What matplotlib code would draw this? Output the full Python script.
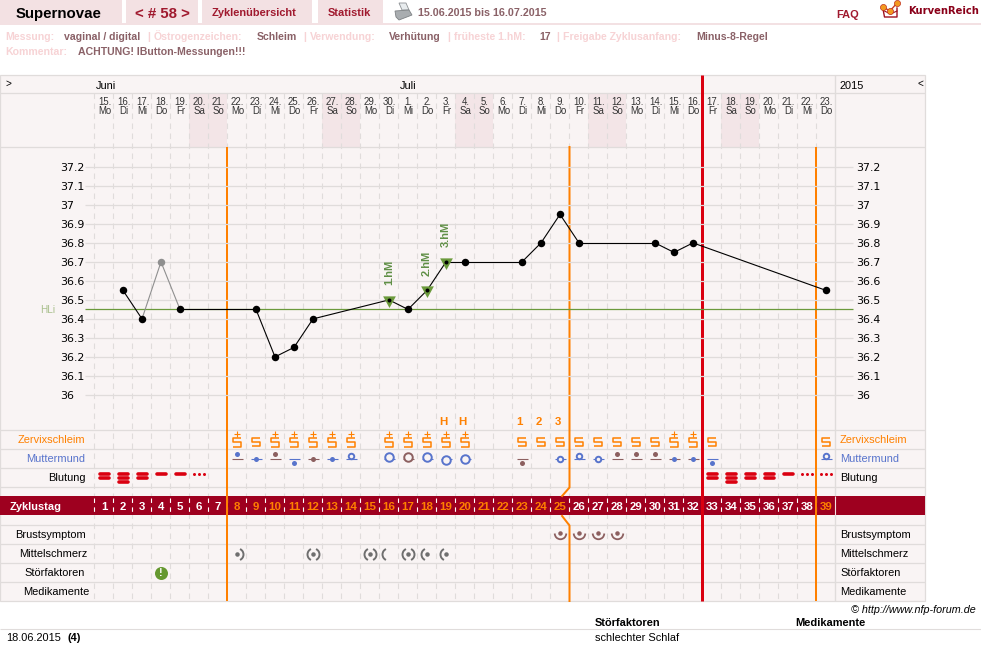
import matplotlib
matplotlib.use("Agg")
import matplotlib.pyplot as plt
from matplotlib.path import Path
from matplotlib.patches import Rectangle, Polygon

W, H = 981, 661
PANEL = "#f9f4f4"
GRID = "#e0dcdb"
WEEKEND = "#f3e5e7"
TAB = "#f3e1e3"
DARK_RED = "#a0192e"
BAND = "#9e001f"
ORANGE = "#ff8000"
RED = "#da0010"
BLUE = "#5874cc"
BROWN = "#8c5f5f"
GREEN = "#6b9a3c"
PINK = "#f7d3d5"
VALUE = "#8a6167"

# calendar
date_numbers = ["15", "16", "17", "18", "19", "20", "21", "22", "23", "24", "25", "26", "27", "28", "29", "30",
                "1", "2", "3", "4", "5", "6", "7", "8", "9", "10", "11", "12", "13", "14", "15", "16",
                "17", "18", "19", "20", "21", "22", "23"]
weekdays = ["Mo", "Di", "Mi", "Do", "Fr", "Sa", "So"] * 5 + ["Mo", "Di", "Mi", "Do"]
weekend_days = [6, 7, 13, 14, 20, 21, 27, 28, 34, 35]
cycle_days = list(range(1, 40))
fertile_days = list(range(8, 26)) + [39]

# temperature curve
temp_days = [2, 3, 4, 5, 9, 10, 11, 12, 16, 17, 18, 19, 20, 23, 24, 25, 26, 30, 31, 32, 39]
temp_values = [36.55, 36.40, 36.70, 36.45, 36.45, 36.20, 36.25, 36.40, 36.50, 36.45, 36.55,
               36.70, 36.70, 36.70, 36.80, 36.95, 36.80, 36.80, 36.75, 36.80, 36.55]
excluded_days = [4]
high_days = [16, 18, 19]
high_labels = ["1.hM", "2.hM", "3.hM"]
cover_line = 36.45
temp_ticks = [36, 36.1, 36.2, 36.3, 36.4, 36.5, 36.6, 36.7, 36.8, 36.9, 37, 37.1, 37.2]

# cycle phase boundaries
phase_lines = [7.5, 38.5]
kink_line = 25.5
ovulation_line = 32.5

# cervical mucus
mucus_plain = [9, 23, 24, 25, 26, 27, 28, 29, 30, 33, 39]
mucus_plus = [8, 10, 11, 12, 13, 14, 16, 17, 18, 19, 20, 31, 32]
peak_days = [19, 20, 23, 24, 25]
peak_labels = ["H", "H", "1", "2", "3"]

# cervix: day, height, ring size (0 = closed), dot colour, line colour
cervix_days = [8, 9, 10, 11, 12, 13, 14, 16, 17, 18, 19, 20, 23, 25, 26, 27, 28, 29, 30, 31, 32, 33, 39]
cervix_height = [1, 0, 1, -1, 0, 0, 0.7, 0.5, 0.5, 0.5, -0.5, 0, -1, 0, 0.7, 0, 1, 1, 1, 0, 0, -1, 0.7]
cervix_ring = [0, 0, 0, 0, 0, 0, 5.5, 8.5, 8.5, 8.5, 8.5, 8.5, 0, 5.5, 5.5, 5.5, 0, 0, 0, 0, 0, 0, 5.5]
cervix_dot = [BLUE, BLUE, BROWN, BLUE, BROWN, BLUE, BLUE, BLUE, BROWN, BLUE, BLUE, BLUE, BROWN,
              BLUE, BLUE, BLUE, BROWN, BROWN, BROWN, BLUE, BLUE, BLUE, BLUE]
cervix_line = [BROWN, BLUE, BROWN, BLUE, BROWN, BLUE, BLUE, BLUE, BROWN, BLUE, BLUE, BLUE, BROWN,
               BLUE, BLUE, BLUE, BROWN, BROWN, BROWN, BROWN, BROWN, BLUE, BLUE]

# bleeding: number of bars, 0 = spotting dots
bleeding_days = [1, 2, 3, 4, 5, 6, 33, 34, 35, 36, 37, 38, 39]
bleeding_bars = [2, 3, 2, 1, 1, 0, 2, 3, 2, 2, 1, 0, 0]

# symptoms
breast_days = [25, 26, 27, 28]
pain_left = [12, 15, 16, 17, 18, 19]
pain_right = [8, 12, 15, 17]
pain_dot = [8, 12, 15, 17, 18, 19]
disturbance_days = [4]

row_names = ["Zervixschleim", "Muttermund", "Blutung", "Brustsymptom", "Mittelschmerz", "Störfaktoren", "Medikamente"]
row_y = [439.5, 458.5, 477.5, 534.5, 553.5, 572.5, 591.5]
row_right = [85, 85.5, 85.5, 86, 87, 85, 89]
row_colors = [ORANGE, BLUE, "black", "black", "black", "black", "black"]


def size(px):
    return px * 0.72


S_PLAIN = Path([(1, 1), (-1, 1), (-1, 0), (1, 0), (1, -1), (-1, -1)])
S_TALL = Path([(0.78, 1), (-0.78, 1), (-0.78, 0), (0.78, 0), (0.78, -1), (-0.78, -1)])
ARC_LEFT = Path.arc(115, 245)
ARC_RIGHT = Path.arc(-65, 65)
ARC_LOW = Path.arc(180, 360)
TRIANGLE = Path([(-0.85, 0.55), (0.85, 0.55), (0, -1), (-0.85, 0.55)], closed=True)

plt.rcParams["font.family"] = ["Liberation Sans", "DejaVu Sans"]
fig = plt.figure(figsize=(W / 100, H / 100), dpi=100, facecolor="white")


def make_axes(left, top, right, bottom):
    ax = fig.add_axes([left / W, 1 - bottom / H, (right - left) / W, (bottom - top) / H])
    ax.axis("off")
    ax.patch.set_alpha(0)
    return ax


def px_to_day(px):
    return 1 + (px - 104) / 19


# page furniture in pixel units
page = make_axes(0, 0, W, H)
page.set_xlim(0, W)
page.set_ylim(H, 0)


def label(x, y, s, px=11, color="black", weight="normal", ha="left", ax=page, **kw):
    ax.annotate(s, (x, y), xytext=(0, -size(px * 0.36)), textcoords="offset points", fontsize=size(px),
                color=color, fontweight=weight, ha=ha, va="baseline", annotation_clip=False, **kw)


for x0, x1 in [(0, 122), (126, 198), (202, 312), (318, 383)]:
    page.add_patch(Rectangle((x0, 0), x1 - x0, 23, fc=TAB, ec="none"))
page.add_patch(Rectangle((0, 23), W, 2, fc=TAB, ec="none"))
label(16, 13, "Supernovae", 15, "black", "bold")
label(162, 13, "< # 58 >", 15, DARK_RED, "bold", ha="center")
label(212, 12.5, "Zyklenübersicht", 11, DARK_RED, "bold")
label(328, 12.5, "Statistik", 11, DARK_RED, "bold")
label(418, 12.5, "15.06.2015 bis 16.07.2015", 10.7, VALUE, "bold")
label(836, 14.5, "FAQ", 11, DARK_RED, "bold")
label(908, 10.5, "KurvenReich", 10, "#8a0019", "bold", family="DejaVu Sans")

# printer icon
page.add_patch(Polygon([(399, 3), (406, 3), (409, 10), (402, 10)], fc="#e8ecee", ec="#8d9194", lw=0.6))
page.add_patch(Polygon([(395, 11), (409, 10), (412, 15), (399, 20), (396, 17)], fc="#a9adb0", ec="#7d8184", lw=0.6))

# logo
page.plot([883, 890, 897], [7, 11, 3], color="#c8401f", lw=1)
page.plot([883, 884.5, 897, 897], [9, 17, 17, 8], color="#a01020", lw=1)
page.plot([884.5, 890.5, 897], [11, 14, 11], color="#a01020", lw=0.8)
page.plot([883, 890, 897], [7, 11, 3], "o", ms=4.4, mfc="#f29a1f", mec="#c0301f", mew=0.5)

info_top = [(5, "Messung:", PINK), (64, "vaginal / digital", VALUE), (147, "|", PINK),
            (154, "Östrogenzeichen:", PINK), (257, "Schleim", VALUE), (303, "|", PINK),
            (310, "Verwendung:", PINK), (389, "Verhütung", VALUE), (447, "|", PINK),
            (454, "früheste 1.hM:", PINK), (539, "17", VALUE), (556, "|", PINK),
            (563, "Freigabe Zyklusanfang:", PINK), (696, "Minus-8-Regel", VALUE)]
for x, s, c in info_top:
    label(x, 36, s, 10.5, c, "bold")
label(5, 51, "Kommentar:", 10.5, PINK, "bold")
label(78, 51, "ACHTUNG! IButton-Messungen!!!", 10.5, VALUE, "bold")

# chart panel
page.add_patch(Rectangle((0, 75), 925, 526, fc=PANEL, ec=GRID, lw=0.9))

label(5, 83, ">", 10)
label(96, 85, "Juni", 11)
label(400, 85, "Juli", 11)
label(840, 85, "2015", 11)
label(918, 83, "<", 10)
label(976, 609, "© http://www.nfp-forum.de", 10.7, ha="right", style="italic")
label(595, 622, "Störfaktoren", 11, weight="bold")
label(795, 622, "Medikamente", 11, weight="bold")
page.hlines(629, 0, W, color=GRID, lw=0.8)
label(6, 637.5, "18.06.2015", 11)
label(68, 637.5, "(4)", 11, weight="bold")
label(595, 637.5, "schlechter Schlaf", 11)

# day columns: x in cycle days, y in pixels
grid = make_axes(0, 0, 925, H)
grid.set_xlim(px_to_day(0), px_to_day(925))
grid.set_ylim(H, 0)
DASH = (0, (5, 4))
EDGE = 0.5 / 19  # nudges column edges onto the pixel grid
column_edges = [d - 0.5 - EDGE for d in cycle_days]

for d in weekend_days:
    grid.add_patch(Rectangle((d - 0.5 - EDGE, 93), 1, 54, fc=WEEKEND, ec="none", zorder=1))

for y in [93, 147, 430, 449, 468, 487, 525, 544, 563, 582]:
    grid.hlines(y, px_to_day(0), px_to_day(925), color=GRID, lw=0.9, zorder=2)
grid.vlines(column_edges, 93, 601, color=GRID, lw=0.8, linestyles=[DASH], zorder=2)
grid.vlines(px_to_day(835), 75, 601, color=GRID, lw=1.0, zorder=2)

for d, num, wd in zip(cycle_days, date_numbers, weekdays):
    label(d + 0.03, 102, num + ".", 9.6, "#333333", ha="center", ax=grid, zorder=3)
    label(d + 0.03, 111, wd, 9.6, "#333333", ha="center", ax=grid, zorder=3)

for y, name, x, c in zip(row_y, row_names, row_right, row_colors):
    label(px_to_day(x), y, name, 11, c, ha="right", ax=grid, zorder=3)
    label(px_to_day(840), y, name, 11, c, ax=grid, zorder=3)

# cycle day band
grid.add_patch(Rectangle((px_to_day(0), 496), 925 / 19, 19, fc=BAND, ec="none", zorder=4))
grid.vlines(column_edges, 498, 514, color="white", lw=0.8, linestyles=[(0, (4, 4))], zorder=5)
grid.vlines(px_to_day(835), 496, 515, color="#f3e1e3", lw=0.8, zorder=5)
label(px_to_day(10), 506, "Zyklustag", 11, "white", "bold", ax=grid, zorder=6)
for d in cycle_days:
    label(d, 506, str(d), 11.5, ORANGE if d in fertile_days else "white", "bold", ha="center", ax=grid, zorder=6)

# phase lines
grid.vlines([p - EDGE for p in phase_lines], 147, 601, color=ORANGE, lw=1.44, zorder=7)
kink_x = [kink_line, kink_line, kink_line - 0.39]
grid.plot(kink_x, [147, 487.5, 496], color=ORANGE, lw=1.44, zorder=7)
grid.plot(kink_x[::-1], [516, 525.5, 601], color=ORANGE, lw=1.44, zorder=7)
grid.vlines(ovulation_line - EDGE, 75, 601, color=RED, lw=2.16, zorder=8)

# mucus row
for d in mucus_plain:
    grid.plot(d, 442, marker=S_PLAIN, ms=size(7.2), mfc="none", mec=ORANGE, mew=1.1, zorder=9)
for d in mucus_plus:
    grid.plot(d, 442, marker=S_TALL, ms=size(9), mfc="none", mec=ORANGE, mew=1.1, zorder=9)
    grid.plot(d, 434, marker="+", ms=size(6.5), mec=ORANGE, mew=0.8, zorder=9)
for d, s in zip(peak_days, peak_labels):
    label(d - 2.5 / 19, 421, s, 11.5, ORANGE, "bold", ha="center", ax=grid, zorder=9)

# cervix row
for d, h, r, dc, lc in zip(cervix_days, cervix_height, cervix_ring, cervix_dot, cervix_line):
    grid.plot(d, 458.5, marker="_", ms=size(11), mec=lc, mew=0.8, zorder=9)
    if r:
        grid.plot(d, 458.5 - 3.5 * h, "o", ms=size(r), mfc=PANEL, mec=dc, mew=1.4, zorder=10)
    else:
        grid.plot(d, 458.5 - 4.5 * h, "o", ms=size(5), mfc=dc, mec="none", zorder=10)

# bleeding row
for d, n in zip(bleeding_days, bleeding_bars):
    if n == 0:
        grid.plot([d - 5 / 19, d, d + 5 / 19], [473.5] * 3, "o", ms=size(3), color=RED, mew=0, zorder=9)
    for i in range(n):
        y = 473.5 + 4.2 * i
        grid.plot([d - 4.5 / 19, d + 4.5 / 19], [y, y], color=RED, lw=size(3.6), solid_capstyle="round", zorder=9)

# symptom rows
for d in breast_days:
    grid.plot(d, 532.7, "o", ms=size(4.5), mfc=BROWN, mec="none", zorder=9)
    grid.plot(d, 533, marker=ARC_LOW, ms=size(11.5), mfc="none", mec=BROWN, mew=1.3, zorder=9)
for d in pain_dot:
    grid.plot(d, 553.5, "o", ms=size(4.5), mfc="#6f6f6f", mec="none", zorder=9)
for d in pain_left:
    grid.plot(d - (0.05 if d == 16 else 0), 553.5, marker=ARC_LEFT, ms=size(12), mfc="none", mec="#6f6f6f", mew=1.4, zorder=9)
for d in pain_right:
    grid.plot(d, 553.5, marker=ARC_RIGHT, ms=size(12), mfc="none", mec="#6f6f6f", mew=1.4, zorder=9)
for d in disturbance_days:
    grid.plot(d, 572.5, "o", ms=size(13), mfc="#65982f", mec="none", zorder=9)
    label(d, 572.5, "!", 11, "white", "bold", ha="center", ax=grid, zorder=10)

# temperature curve on its own scale: 19 px per 0.1 degree
temp = make_axes(0, 147.5, 925, 430)
temp.set_xlim(px_to_day(0), px_to_day(925))
temp.set_ylim(36 + (394.9 - 430) / 190, 36 + (394.9 - 147.5) / 190)
grid_from, grid_to = px_to_day(85), px_to_day(853)
temp.hlines(temp_ticks, grid_from, grid_to, color=GRID, lw=0.9, zorder=1)
temp.hlines(cover_line, grid_from, grid_to, color=GREEN, lw=0.9, zorder=2)
label(px_to_day(40), cover_line, "HLi", 10, "#a9bf8c", ax=temp)

for t in temp_ticks:
    s = f"{t:g}"
    label(px_to_day(60), t, s, 11, "black", ax=temp, family="DejaVu Sans")
    label(px_to_day(856), t, s, 11, "black", ax=temp, family="DejaVu Sans")

for i in range(len(temp_days) - 1):
    pair = temp_days[i:i + 2]
    c = "#8f8f8f" if any(d in excluded_days for d in pair) else "black"
    temp.plot(pair, temp_values[i:i + 2], color=c, lw=0.8, zorder=3)

for d, v in zip(temp_days, temp_values):
    if d in excluded_days:
        temp.plot(d, v, "o", ms=size(7.5), mfc="#8f8f8f", mec="none", zorder=4)
    elif d in high_days:
        temp.plot(d, v, marker=TRIANGLE, ms=size(15), mfc=GREEN, mec="none", zorder=4)
        temp.plot(d, v, "o", ms=size(4), mfc="black", mec="none", zorder=5)
        temp.annotate(high_labels[high_days.index(d)], (d, v), xytext=(0, size(14.5)), textcoords="offset points",
                      rotation=90, ha="center", va="bottom", fontsize=size(11), fontweight="bold",
                      color="#5f8f45", zorder=5)
    else:
        temp.plot(d, v, "o", ms=size(7.5), mfc="black", mec="none", zorder=4)

fig.savefig("out.png", dpi=100)
